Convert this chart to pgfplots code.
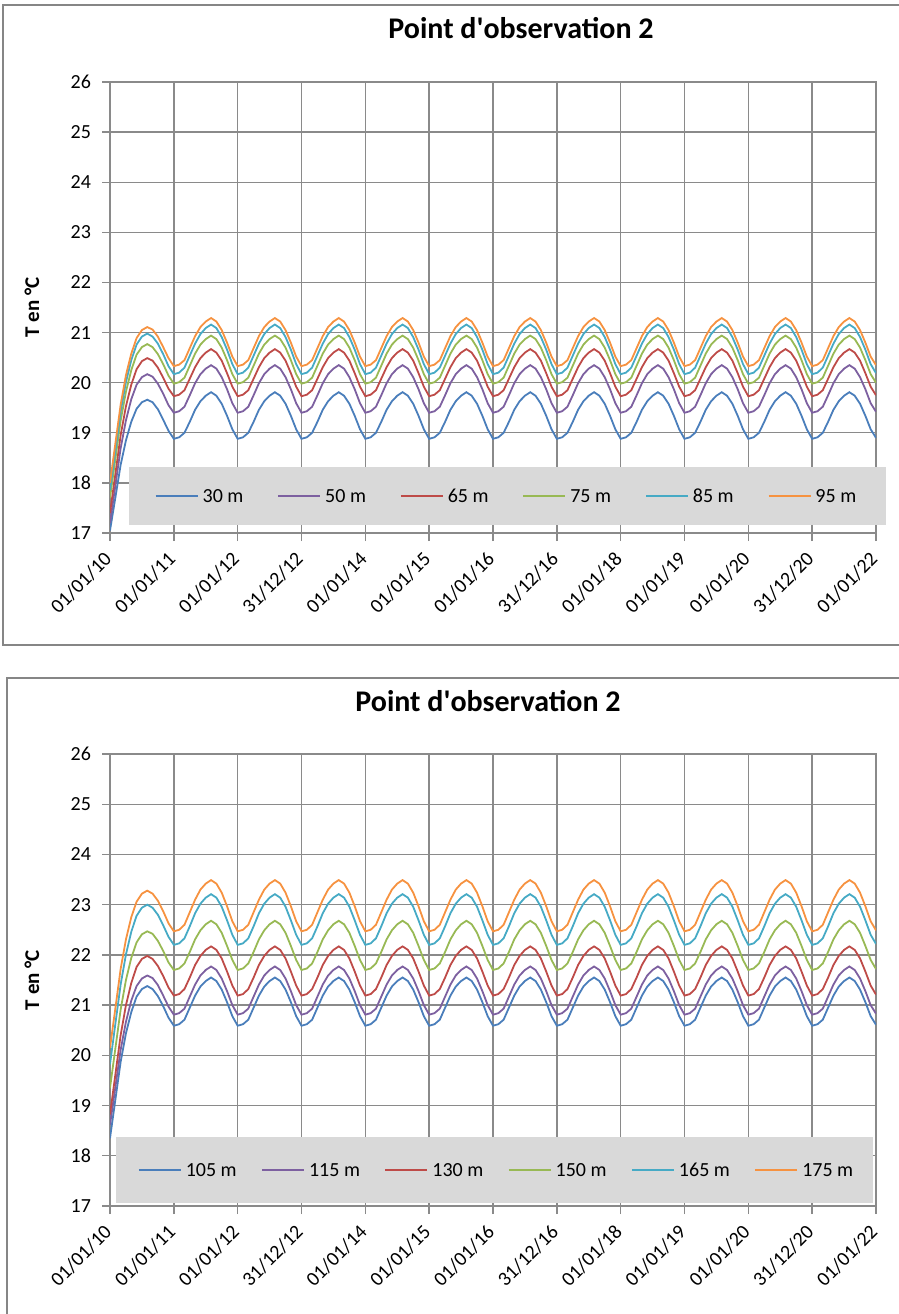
\documentclass[border=0pt]{standalone}
\usepackage{fontspec}
\setmainfont{Carlito}
\usepackage{pgfplots}
\usepackage{pgfplotstable}
\pgfplotsset{compat=1.18}
\definecolor{c1}{HTML}{4A7EBB}
\definecolor{c2}{HTML}{7D60A0}
\definecolor{c3}{HTML}{BE4B48}
\definecolor{c4}{HTML}{98B954}
\definecolor{c5}{HTML}{46AAC5}
\definecolor{c6}{HTML}{F69240}
\definecolor{gridgray}{HTML}{8A8A8A}
\definecolor{framegray}{HTML}{868686}
\definecolor{legendgray}{HTML}{D9D9D9}

\pgfplotstableread{
x a b c d e f
0 17.05 17.20 17.40 17.70 17.85 18.00
1 17.70 17.94 18.17 18.47 18.63 18.78
2 18.36 18.69 18.95 19.24 19.42 19.56
3 18.85 19.25 19.53 19.82 20.01 20.15
4 19.22 19.67 19.96 20.25 20.45 20.58
5 19.48 19.96 20.27 20.56 20.76 20.89
6 19.61 20.11 20.43 20.71 20.92 21.05
7 19.66 20.17 20.49 20.77 20.98 21.11
8 19.61 20.12 20.44 20.71 20.92 21.06
9 19.47 19.98 20.30 20.57 20.78 20.92
10 19.26 19.78 20.10 20.37 20.57 20.71
11 19.04 19.55 19.88 20.14 20.33 20.49
12 18.88 19.40 19.73 19.98 20.17 20.33
13 18.91 19.43 19.76 20.01 20.20 20.36
14 19.00 19.52 19.85 20.10 20.30 20.45
15 19.22 19.75 20.08 20.34 20.54 20.69
16 19.46 19.99 20.31 20.58 20.78 20.93
17 19.63 20.17 20.49 20.76 20.97 21.11
18 19.74 20.28 20.60 20.87 21.09 21.22
19 19.81 20.35 20.67 20.94 21.16 21.29
20 19.74 20.28 20.60 20.87 21.09 21.22
21 19.58 20.11 20.44 20.70 20.91 21.05
22 19.34 19.87 20.19 20.45 20.66 20.80
23 19.07 19.59 19.92 20.17 20.37 20.52
24 18.88 19.40 19.73 19.98 20.17 20.33
25 18.91 19.43 19.76 20.01 20.20 20.36
26 19.00 19.52 19.85 20.10 20.30 20.45
27 19.22 19.75 20.08 20.34 20.54 20.69
28 19.46 19.99 20.31 20.58 20.78 20.93
29 19.63 20.17 20.49 20.76 20.97 21.11
30 19.74 20.28 20.60 20.87 21.09 21.22
31 19.81 20.35 20.67 20.94 21.16 21.29
32 19.74 20.28 20.60 20.87 21.09 21.22
33 19.58 20.11 20.44 20.70 20.91 21.05
34 19.34 19.87 20.19 20.45 20.66 20.80
35 19.07 19.59 19.92 20.17 20.37 20.52
36 18.88 19.40 19.73 19.98 20.17 20.33
37 18.91 19.43 19.76 20.01 20.20 20.36
38 19.00 19.52 19.85 20.10 20.30 20.45
39 19.22 19.75 20.08 20.34 20.54 20.69
40 19.46 19.99 20.31 20.58 20.78 20.93
41 19.63 20.17 20.49 20.76 20.97 21.11
42 19.74 20.28 20.60 20.87 21.09 21.22
43 19.81 20.35 20.67 20.94 21.16 21.29
44 19.74 20.28 20.60 20.87 21.09 21.22
45 19.58 20.11 20.44 20.70 20.91 21.05
46 19.34 19.87 20.19 20.45 20.66 20.80
47 19.07 19.59 19.92 20.17 20.37 20.52
48 18.88 19.40 19.73 19.98 20.17 20.33
49 18.91 19.43 19.76 20.01 20.20 20.36
50 19.00 19.52 19.85 20.10 20.30 20.45
51 19.22 19.75 20.08 20.34 20.54 20.69
52 19.46 19.99 20.31 20.58 20.78 20.93
53 19.63 20.17 20.49 20.76 20.97 21.11
54 19.74 20.28 20.60 20.87 21.09 21.22
55 19.81 20.35 20.67 20.94 21.16 21.29
56 19.74 20.28 20.60 20.87 21.09 21.22
57 19.58 20.11 20.44 20.70 20.91 21.05
58 19.34 19.87 20.19 20.45 20.66 20.80
59 19.07 19.59 19.92 20.17 20.37 20.52
60 18.88 19.40 19.73 19.98 20.17 20.33
61 18.91 19.43 19.76 20.01 20.20 20.36
62 19.00 19.52 19.85 20.10 20.30 20.45
63 19.22 19.75 20.08 20.34 20.54 20.69
64 19.46 19.99 20.31 20.58 20.78 20.93
65 19.63 20.17 20.49 20.76 20.97 21.11
66 19.74 20.28 20.60 20.87 21.09 21.22
67 19.81 20.35 20.67 20.94 21.16 21.29
68 19.74 20.28 20.60 20.87 21.09 21.22
69 19.58 20.11 20.44 20.70 20.91 21.05
70 19.34 19.87 20.19 20.45 20.66 20.80
71 19.07 19.59 19.92 20.17 20.37 20.52
72 18.88 19.40 19.73 19.98 20.17 20.33
73 18.91 19.43 19.76 20.01 20.20 20.36
74 19.00 19.52 19.85 20.10 20.30 20.45
75 19.22 19.75 20.08 20.34 20.54 20.69
76 19.46 19.99 20.31 20.58 20.78 20.93
77 19.63 20.17 20.49 20.76 20.97 21.11
78 19.74 20.28 20.60 20.87 21.09 21.22
79 19.81 20.35 20.67 20.94 21.16 21.29
80 19.74 20.28 20.60 20.87 21.09 21.22
81 19.58 20.11 20.44 20.70 20.91 21.05
82 19.34 19.87 20.19 20.45 20.66 20.80
83 19.07 19.59 19.92 20.17 20.37 20.52
84 18.88 19.40 19.73 19.98 20.17 20.33
85 18.91 19.43 19.76 20.01 20.20 20.36
86 19.00 19.52 19.85 20.10 20.30 20.45
87 19.22 19.75 20.08 20.34 20.54 20.69
88 19.46 19.99 20.31 20.58 20.78 20.93
89 19.63 20.17 20.49 20.76 20.97 21.11
90 19.74 20.28 20.60 20.87 21.09 21.22
91 19.81 20.35 20.67 20.94 21.16 21.29
92 19.74 20.28 20.60 20.87 21.09 21.22
93 19.58 20.11 20.44 20.70 20.91 21.05
94 19.34 19.87 20.19 20.45 20.66 20.80
95 19.07 19.59 19.92 20.17 20.37 20.52
96 18.88 19.40 19.73 19.98 20.17 20.33
97 18.91 19.43 19.76 20.01 20.20 20.36
98 19.00 19.52 19.85 20.10 20.30 20.45
99 19.22 19.75 20.08 20.34 20.54 20.69
100 19.46 19.99 20.31 20.58 20.78 20.93
101 19.63 20.17 20.49 20.76 20.97 21.11
102 19.74 20.28 20.60 20.87 21.09 21.22
103 19.81 20.35 20.67 20.94 21.16 21.29
104 19.74 20.28 20.60 20.87 21.09 21.22
105 19.58 20.11 20.44 20.70 20.91 21.05
106 19.34 19.87 20.19 20.45 20.66 20.80
107 19.07 19.59 19.92 20.17 20.37 20.52
108 18.88 19.40 19.73 19.98 20.17 20.33
109 18.91 19.43 19.76 20.01 20.20 20.36
110 19.00 19.52 19.85 20.10 20.30 20.45
111 19.22 19.75 20.08 20.34 20.54 20.69
112 19.46 19.99 20.31 20.58 20.78 20.93
113 19.63 20.17 20.49 20.76 20.97 21.11
114 19.74 20.28 20.60 20.87 21.09 21.22
115 19.81 20.35 20.67 20.94 21.16 21.29
116 19.74 20.28 20.60 20.87 21.09 21.22
117 19.58 20.11 20.44 20.70 20.91 21.05
118 19.34 19.87 20.19 20.45 20.66 20.80
119 19.07 19.59 19.92 20.17 20.37 20.52
120 18.88 19.40 19.73 19.98 20.17 20.33
121 18.91 19.43 19.76 20.01 20.20 20.36
122 19.00 19.52 19.85 20.10 20.30 20.45
123 19.22 19.75 20.08 20.34 20.54 20.69
124 19.46 19.99 20.31 20.58 20.78 20.93
125 19.63 20.17 20.49 20.76 20.97 21.11
126 19.74 20.28 20.60 20.87 21.09 21.22
127 19.81 20.35 20.67 20.94 21.16 21.29
128 19.74 20.28 20.60 20.87 21.09 21.22
129 19.58 20.11 20.44 20.70 20.91 21.05
130 19.34 19.87 20.19 20.45 20.66 20.80
131 19.07 19.59 19.92 20.17 20.37 20.52
132 18.88 19.40 19.73 19.98 20.17 20.33
133 18.91 19.43 19.76 20.01 20.20 20.36
134 19.00 19.52 19.85 20.10 20.30 20.45
135 19.22 19.75 20.08 20.34 20.54 20.69
136 19.46 19.99 20.31 20.58 20.78 20.93
137 19.63 20.17 20.49 20.76 20.97 21.11
138 19.74 20.28 20.60 20.87 21.09 21.22
139 19.81 20.35 20.67 20.94 21.16 21.29
140 19.74 20.28 20.60 20.87 21.09 21.22
141 19.58 20.11 20.44 20.70 20.91 21.05
142 19.34 19.87 20.19 20.45 20.66 20.80
143 19.07 19.59 19.92 20.17 20.37 20.52
144 18.90 19.42 19.75 20.00 20.19 20.35
}\toptable

\pgfplotstableread{
x a b c d e f
0 18.35 18.62 18.82 19.35 19.82 20.15
1 19.11 19.36 19.61 20.13 20.62 20.93
2 19.87 20.11 20.40 20.91 21.41 21.72
3 20.44 20.67 21.00 21.50 22.01 22.31
4 20.86 21.09 21.44 21.94 22.46 22.75
5 21.17 21.38 21.76 22.25 22.78 23.06
6 21.32 21.53 21.92 22.41 22.94 23.22
7 21.38 21.59 21.98 22.47 23.00 23.28
8 21.32 21.54 21.92 22.42 22.94 23.22
9 21.18 21.40 21.78 22.28 22.80 23.08
10 20.98 21.19 21.58 22.08 22.59 22.87
11 20.75 20.97 21.35 21.85 22.36 22.63
12 20.59 20.81 21.19 21.70 22.20 22.47
13 20.62 20.84 21.22 21.73 22.23 22.50
14 20.71 20.93 21.32 21.83 22.33 22.60
15 20.95 21.17 21.55 22.06 22.57 22.85
16 21.19 21.41 21.80 22.31 22.83 23.10
17 21.37 21.59 21.98 22.49 23.02 23.30
18 21.48 21.70 22.10 22.61 23.14 23.42
19 21.55 21.77 22.17 22.68 23.21 23.49
20 21.48 21.70 22.10 22.61 23.14 23.42
21 21.31 21.53 21.93 22.44 22.96 23.24
22 21.06 21.28 21.67 22.18 22.69 22.97
23 20.78 21.00 21.39 21.90 22.40 22.67
24 20.59 20.81 21.19 21.70 22.20 22.47
25 20.62 20.84 21.22 21.73 22.23 22.50
26 20.71 20.93 21.32 21.83 22.33 22.60
27 20.95 21.17 21.55 22.06 22.57 22.85
28 21.19 21.41 21.80 22.31 22.83 23.10
29 21.37 21.59 21.98 22.49 23.02 23.30
30 21.48 21.70 22.10 22.61 23.14 23.42
31 21.55 21.77 22.17 22.68 23.21 23.49
32 21.48 21.70 22.10 22.61 23.14 23.42
33 21.31 21.53 21.93 22.44 22.96 23.24
34 21.06 21.28 21.67 22.18 22.69 22.97
35 20.78 21.00 21.39 21.90 22.40 22.67
36 20.59 20.81 21.19 21.70 22.20 22.47
37 20.62 20.84 21.22 21.73 22.23 22.50
38 20.71 20.93 21.32 21.83 22.33 22.60
39 20.95 21.17 21.55 22.06 22.57 22.85
40 21.19 21.41 21.80 22.31 22.83 23.10
41 21.37 21.59 21.98 22.49 23.02 23.30
42 21.48 21.70 22.10 22.61 23.14 23.42
43 21.55 21.77 22.17 22.68 23.21 23.49
44 21.48 21.70 22.10 22.61 23.14 23.42
45 21.31 21.53 21.93 22.44 22.96 23.24
46 21.06 21.28 21.67 22.18 22.69 22.97
47 20.78 21.00 21.39 21.90 22.40 22.67
48 20.59 20.81 21.19 21.70 22.20 22.47
49 20.62 20.84 21.22 21.73 22.23 22.50
50 20.71 20.93 21.32 21.83 22.33 22.60
51 20.95 21.17 21.55 22.06 22.57 22.85
52 21.19 21.41 21.80 22.31 22.83 23.10
53 21.37 21.59 21.98 22.49 23.02 23.30
54 21.48 21.70 22.10 22.61 23.14 23.42
55 21.55 21.77 22.17 22.68 23.21 23.49
56 21.48 21.70 22.10 22.61 23.14 23.42
57 21.31 21.53 21.93 22.44 22.96 23.24
58 21.06 21.28 21.67 22.18 22.69 22.97
59 20.78 21.00 21.39 21.90 22.40 22.67
60 20.59 20.81 21.19 21.70 22.20 22.47
61 20.62 20.84 21.22 21.73 22.23 22.50
62 20.71 20.93 21.32 21.83 22.33 22.60
63 20.95 21.17 21.55 22.06 22.57 22.85
64 21.19 21.41 21.80 22.31 22.83 23.10
65 21.37 21.59 21.98 22.49 23.02 23.30
66 21.48 21.70 22.10 22.61 23.14 23.42
67 21.55 21.77 22.17 22.68 23.21 23.49
68 21.48 21.70 22.10 22.61 23.14 23.42
69 21.31 21.53 21.93 22.44 22.96 23.24
70 21.06 21.28 21.67 22.18 22.69 22.97
71 20.78 21.00 21.39 21.90 22.40 22.67
72 20.59 20.81 21.19 21.70 22.20 22.47
73 20.62 20.84 21.22 21.73 22.23 22.50
74 20.71 20.93 21.32 21.83 22.33 22.60
75 20.95 21.17 21.55 22.06 22.57 22.85
76 21.19 21.41 21.80 22.31 22.83 23.10
77 21.37 21.59 21.98 22.49 23.02 23.30
78 21.48 21.70 22.10 22.61 23.14 23.42
79 21.55 21.77 22.17 22.68 23.21 23.49
80 21.48 21.70 22.10 22.61 23.14 23.42
81 21.31 21.53 21.93 22.44 22.96 23.24
82 21.06 21.28 21.67 22.18 22.69 22.97
83 20.78 21.00 21.39 21.90 22.40 22.67
84 20.59 20.81 21.19 21.70 22.20 22.47
85 20.62 20.84 21.22 21.73 22.23 22.50
86 20.71 20.93 21.32 21.83 22.33 22.60
87 20.95 21.17 21.55 22.06 22.57 22.85
88 21.19 21.41 21.80 22.31 22.83 23.10
89 21.37 21.59 21.98 22.49 23.02 23.30
90 21.48 21.70 22.10 22.61 23.14 23.42
91 21.55 21.77 22.17 22.68 23.21 23.49
92 21.48 21.70 22.10 22.61 23.14 23.42
93 21.31 21.53 21.93 22.44 22.96 23.24
94 21.06 21.28 21.67 22.18 22.69 22.97
95 20.78 21.00 21.39 21.90 22.40 22.67
96 20.59 20.81 21.19 21.70 22.20 22.47
97 20.62 20.84 21.22 21.73 22.23 22.50
98 20.71 20.93 21.32 21.83 22.33 22.60
99 20.95 21.17 21.55 22.06 22.57 22.85
100 21.19 21.41 21.80 22.31 22.83 23.10
101 21.37 21.59 21.98 22.49 23.02 23.30
102 21.48 21.70 22.10 22.61 23.14 23.42
103 21.55 21.77 22.17 22.68 23.21 23.49
104 21.48 21.70 22.10 22.61 23.14 23.42
105 21.31 21.53 21.93 22.44 22.96 23.24
106 21.06 21.28 21.67 22.18 22.69 22.97
107 20.78 21.00 21.39 21.90 22.40 22.67
108 20.59 20.81 21.19 21.70 22.20 22.47
109 20.62 20.84 21.22 21.73 22.23 22.50
110 20.71 20.93 21.32 21.83 22.33 22.60
111 20.95 21.17 21.55 22.06 22.57 22.85
112 21.19 21.41 21.80 22.31 22.83 23.10
113 21.37 21.59 21.98 22.49 23.02 23.30
114 21.48 21.70 22.10 22.61 23.14 23.42
115 21.55 21.77 22.17 22.68 23.21 23.49
116 21.48 21.70 22.10 22.61 23.14 23.42
117 21.31 21.53 21.93 22.44 22.96 23.24
118 21.06 21.28 21.67 22.18 22.69 22.97
119 20.78 21.00 21.39 21.90 22.40 22.67
120 20.59 20.81 21.19 21.70 22.20 22.47
121 20.62 20.84 21.22 21.73 22.23 22.50
122 20.71 20.93 21.32 21.83 22.33 22.60
123 20.95 21.17 21.55 22.06 22.57 22.85
124 21.19 21.41 21.80 22.31 22.83 23.10
125 21.37 21.59 21.98 22.49 23.02 23.30
126 21.48 21.70 22.10 22.61 23.14 23.42
127 21.55 21.77 22.17 22.68 23.21 23.49
128 21.48 21.70 22.10 22.61 23.14 23.42
129 21.31 21.53 21.93 22.44 22.96 23.24
130 21.06 21.28 21.67 22.18 22.69 22.97
131 20.78 21.00 21.39 21.90 22.40 22.67
132 20.59 20.81 21.19 21.70 22.20 22.47
133 20.62 20.84 21.22 21.73 22.23 22.50
134 20.71 20.93 21.32 21.83 22.33 22.60
135 20.95 21.17 21.55 22.06 22.57 22.85
136 21.19 21.41 21.80 22.31 22.83 23.10
137 21.37 21.59 21.98 22.49 23.02 23.30
138 21.48 21.70 22.10 22.61 23.14 23.42
139 21.55 21.77 22.17 22.68 23.21 23.49
140 21.48 21.70 22.10 22.61 23.14 23.42
141 21.31 21.53 21.93 22.44 22.96 23.24
142 21.06 21.28 21.67 22.18 22.69 22.97
143 20.78 21.00 21.39 21.90 22.40 22.67
144 20.61 20.83 21.21 21.72 22.22 22.49
}\bottable

\pgfplotsset{
  obs/.style={
    scale only axis, width=383pt,
    xmin=0, xmax=144, ymin=17, ymax=26,
    xtick={0,12,...,144}, ytick={17,18,...,26},
    xticklabels={01/01/10,01/01/11,01/01/12,31/12/12,01/01/14,01/01/15,01/01/16,31/12/16,01/01/18,01/01/19,01/01/20,31/12/20,01/01/22},
    /pgf/number format/assume math mode=true,
    tick label style={font=\fontsize{10}{12}\selectfont, text=black},
    xticklabel style={yshift=-5pt, xshift=1.5pt, rotate=45, anchor=east},
    yticklabel style={xshift=-2pt},
    grid=major, grid style={draw=gridgray, line width=0.7pt},
    axis line style={draw=gridgray, line width=0.7pt},
    tick style={draw=gridgray, line width=0.7pt},
    tick align=outside, tick pos=left, major tick length=4pt,
    clip mode=individual,
    ylabel={T en °C},
    ylabel style={at={(axis description cs:-0.1018,0.5)}, anchor=center, font=\bfseries\fontsize{10.5}{12}\selectfont},
    title style={font=\bfseries\fontsize{15}{18}\selectfont},
    legend columns=6,
    legend style={draw=none, fill=none, font=\fontsize{10}{12}\selectfont, anchor=center,
      nodes={text height=7pt, text depth=0.5pt}},
    legend image code/.code={\draw[#1] (0pt,0pt) -- (21pt,0pt);},
    every axis plot/.append style={line width=0.9pt},
  }
}

\begin{document}
\begin{tikzpicture}
\useasboundingbox (0,0) rectangle (449.5pt,-657pt);
\clip (0,0) rectangle (449.5pt,-657pt);
\draw[framegray, line width=1pt] (460pt,-2.5pt) -- (1.5pt,-2.5pt) -- (1.5pt,-322.5pt) -- (460pt,-322.5pt);
\draw[framegray, line width=1pt] (460pt,-339pt) -- (3.5pt,-339pt) -- (3.5pt,-670pt);

\begin{axis}[obs, height=225.5pt, at={(55pt,-266.5pt)}, anchor=south west,
  title={Point d\textquotesingle observation 2},
  title style={at={(axis description cs:0.5366,1.0532)}},
  legend style={at={(axis description cs:0.519,0.082)}, /tikz/every even column/.append style={column sep=15pt}}]
\addplot[c1] table[x=x,y=a] {\toptable};
\addplot[c2] table[x=x,y=b] {\toptable};
\addplot[c3] table[x=x,y=c] {\toptable};
\addplot[c4] table[x=x,y=d] {\toptable};
\addplot[c5] table[x=x,y=e] {\toptable};
\addplot[c6] table[x=x,y=f] {\toptable};
\fill[legendgray] (axis description cs:0.0248,0.0177) rectangle (axis description cs:1.0131,0.1463);
\legend{30 m,50 m,65 m,75 m,85 m,95 m}
\end{axis}

\begin{axis}[obs, height=226pt, at={(55pt,-603pt)}, anchor=south west,
  title={Point d\textquotesingle observation 2},
  title style={at={(axis description cs:0.4935,1.0509)}},
  legend style={at={(axis description cs:0.506,0.0796)}, /tikz/every even column/.append style={column sep=10.3pt}}]
\addplot[c1] table[x=x,y=a] {\bottable};
\addplot[c2] table[x=x,y=b] {\bottable};
\addplot[c3] table[x=x,y=c] {\bottable};
\addplot[c4] table[x=x,y=d] {\bottable};
\addplot[c5] table[x=x,y=e] {\bottable};
\addplot[c6] table[x=x,y=f] {\bottable};
\fill[legendgray] (axis description cs:0.0078,0.0066) rectangle (axis description cs:0.9961,0.1527);
\legend{105 m,115 m,130 m,150 m,165 m,175 m}
\end{axis}
\end{tikzpicture}
\end{document}
